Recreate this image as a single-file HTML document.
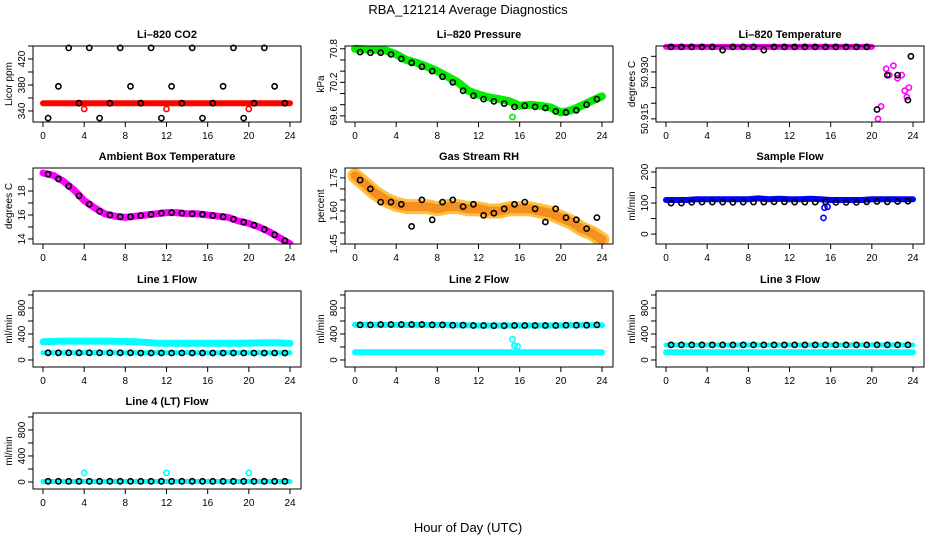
<!DOCTYPE html>
<html><head><meta charset="utf-8"><style>
body{margin:0;background:#fff;width:936px;height:540px;overflow:hidden}
svg{font-family:"Liberation Sans",sans-serif}
</style></head><body>
<svg id="chart" width="936" height="540" viewBox="0 0 936 540" xmlns="http://www.w3.org/2000/svg">
<rect x="0" y="0" width="936" height="540" fill="#fff"/>
<text x="468" y="14" text-anchor="middle" font-size="13">RBA_121214  Average Diagnostics</text>
<text x="468" y="532" text-anchor="middle" font-size="13">Hour of Day (UTC)</text>
</svg>
<script>
// shared x values
const hours = [0,1,2,3,4,5,6,7,8,9,10,11,12,13,14,15,16,17,18,19,20,21,22,23,24];
const bhours = [0.5,1.5,2.5,3.5,4.5,5.5,6.5,7.5,8.5,9.5,10.5,11.5,12.5,13.5,14.5,15.5,16.5,17.5,18.5,19.5,20.5,21.5,22.5,23.5];
const xTicks = [0,4,8,12,16,20,24];

// Li-820 CO2
const co2Red = [352,352,352,352,352,352,352,352,352,352,352,352,352,352,352,352,352,352,352,352,352,352,352,352,352];
const co2Black = [329,378,437,352,437,329,352,437,378,352,437,329,378,352,437,329,352,378,437,329,352,437,378,352];
const co2RedOut = [[4,343],[12,343],[20,343]];
// Li-820 Pressure
const presGreen = [70.8,70.79,70.78,70.77,70.7,70.6,70.55,70.48,70.4,70.3,70.2,70.05,69.98,69.93,69.9,69.86,69.78,69.8,69.78,69.75,69.66,69.7,69.78,69.87,69.95];
const presBlack = [70.74,70.73,70.73,70.7,70.62,70.55,70.48,70.4,70.3,70.2,70.05,69.96,69.9,69.86,69.82,69.76,69.78,69.76,69.74,69.68,69.66,69.7,69.8,69.9];
// Li-820 Temperature
const ltMag = [50.938,50.938,50.938,50.938,50.938,50.938,50.938,50.938,50.938,50.938,50.938,50.938,50.938,50.938,50.938,50.938,50.938,50.938,50.938,50.938,50.938,50.916,50.930,50.929,50.921];
const ltBlack = [50.938,50.938,50.938,50.938,50.938,50.937,50.938,50.938,50.938,50.937,50.938,50.938,50.938,50.938,50.938,50.938,50.938,50.938,50.938,50.938,50.918,50.929,50.929,50.921];
const ltBlackLast = [[23.8,50.935]];
// Ambient Box Temperature
const ambMag = [19.5,19.3,18.8,18.1,17.2,16.6,16.1,15.9,15.8,15.9,16.0,16.1,16.2,16.2,16.1,16.1,16.0,15.9,15.8,15.5,15.3,15.0,14.6,14.1,13.6];
const ambBlack = [19.4,19.0,18.4,17.6,16.9,16.3,16.0,15.85,15.85,15.95,16.05,16.15,16.2,16.15,16.1,16.05,15.95,15.85,15.65,15.4,15.15,14.8,14.35,13.85];
// Gas Stream RH
const rhBand = [1.76,1.72,1.68,1.65,1.63,1.62,1.62,1.62,1.61,1.62,1.62,1.61,1.61,1.60,1.60,1.61,1.61,1.61,1.60,1.59,1.57,1.55,1.52,1.50,1.47];
const rhBlack = [1.74,1.70,1.64,1.64,1.63,1.53,1.65,1.56,1.64,1.65,1.62,1.63,1.58,1.59,1.61,1.63,1.64,1.61,1.55,1.61,1.57,1.56,1.52,1.57];
// Sample Flow
const sfBlue = [110,110,110,112,112,112,112,112,112,115,112,114,112,112,114,112,110,110,110,110,112,112,112,112,112];
const sfBlack = [100,100,102,103,103,103,102,103,103,103,104,104,103,103,103,104,102,102,102,104,105,104,105,106];
const sfBlueOut = [[15.3,52],[15.4,85],[15.7,88]];
// Line 1 Flow
const l1CyanHi = [280,285,290,290,290,290,290,288,285,280,270,260,258,256,256,256,256,258,258,258,260,262,262,262,255];
const l1CyanLo = [112,112,112,112,112,112,112,112,112,112,112,112,112,112,112,112,112,112,112,112,112,112,112,112,112];
const l1Black = [110,110,110,110,110,110,110,110,110,108,108,108,108,108,108,108,108,108,108,108,108,108,108,108];
// Line 2 Flow
const l2CyanHi = [540,540,540,540,540,540,540,540,540,540,535,535,530,530,530,530,530,530,530,530,530,535,535,535,535];
const l2CyanLo = [118,118,118,118,118,118,118,118,118,118,118,118,118,118,118,118,118,118,118,118,118,118,118,118,118];
const l2Black = [540,540,545,545,545,545,545,540,540,535,535,530,530,528,528,530,530,530,530,530,535,535,535,540];
const l2CyanOut = [[15.3,320],[15.5,220],[15.8,210]];
// Line 3 Flow
const l3CyanHi = [230,230,230,230,230,230,230,230,230,230,230,230,230,230,230,230,230,230,230,230,230,230,230,230,230];
const l3CyanLo = [118,118,118,118,118,118,118,118,118,118,118,118,118,118,118,118,118,118,118,118,118,118,118,118,118];
const l3Black = [232,232,232,232,232,232,232,232,232,232,232,232,232,232,232,232,232,232,232,232,232,232,232,232];
// Line 4 Flow
const l4Cyan = [8,8,8,8,8,8,8,8,8,8,8,8,8,8,8,8,8,8,8,8,8,8,8,8,8];
const l4Black = [10,10,10,10,10,10,10,10,10,10,10,10,10,10,10,10,10,10,10,10,10,10,10,10];
const l4CyanOut = [[4,140],[12,140],[20,140]];

const svg = document.getElementById('chart');
const NS = 'http://www.w3.org/2000/svg';
const colL = [33, 345, 656];
const rowT = [46, 168, 291, 413];
const BW = 268, BH = 76;

function mk(tag, attrs, parent){
  const e = document.createElementNS(NS, tag);
  for (const k in attrs) e.setAttribute(k, attrs[k]);
  (parent || svg).appendChild(e);
  return e;
}

function panel(p){
  const L = colL[p.col], T = rowT[p.row];
  const g = mk('g', {});
  
  
  const xs = h => L + 10 + h * (247 / 24);
  const ys = v => T + BH - (v - p.ymin) / (p.ymax - p.ymin) * BH;
  const cid = 'clip-' + p.name;
  const cp = mk('clipPath', {id: cid}, g);
  mk('rect', {x: L, y: T - 3, width: BW, height: BH + 3}, cp);
  const plot = mk('g', {'clip-path': 'url(#' + cid + ')'}, g);
  
  
  p.series.forEach(s => {
    if (s.type === 'band') {
      let d = '';
      s.ys.forEach((v, i) => { d += (i ? 'L' : 'M') + xs(s.xs[i]).toFixed(1) + ' ' + ys(v).toFixed(1); });
      const pl = mk('path', {d: d, fill: 'none', stroke: s.color, 'stroke-width': s.w, 'stroke-linejoin': 'round', 'stroke-linecap': 'round'}, plot);
      
      
    } else {
      const sg = mk('g', {}, plot);
      
      
      const pts = s.pairs ? s.pairs : s.ys.map((v, i) => [s.xs[i], v]);
      pts.forEach(pt => {
        const c = mk('circle', {cx: xs(pt[0]).toFixed(1), cy: ys(pt[1]).toFixed(1), r: 2.6, fill: 'none', stroke: s.color, 'stroke-width': 1.6}, sg);
        
        
      });
    }
  });
  const box = mk('rect', {x: L, y: T, width: BW, height: BH, fill: 'none', stroke: '#000', 'stroke-width': 1}, g);
  
  
  const t = mk('text', {x: L + BW / 2, y: T - 8, 'text-anchor': 'middle', 'font-size': 11, 'font-weight': 'bold'}, g);
  t.textContent = p.title;
  
  
  const xa = mk('g', {}, g);
  
  
  xTicks.forEach(h => {
    mk('line', {x1: xs(h), x2: xs(h), y1: T + BH, y2: T + BH + 5, stroke: '#000'}, xa);
    const lt = mk('text', {x: xs(h), y: T + BH + 17, 'text-anchor': 'middle', 'font-size': 10}, xa);
    lt.textContent = h;
    
    
  });
  const ya = mk('g', {}, g);
  
  
  p.ticks.forEach(v => {
    const y = ys(v);
    if (y < T - 2 || y > T + BH + 2) return;
    mk('line', {x1: L - 5, x2: L, y1: y, y2: y, stroke: '#000'}, ya);
  });
  p.labels.forEach(v => {
    const y = ys(v);
    const lt = mk('text', {x: 0, y: 0, 'text-anchor': 'middle', 'font-size': 10, transform: 'translate(' + (L - 8) + ',' + y + ') rotate(-90)'}, ya);
    lt.textContent = p.fmt ? p.fmt(v) : v;
    
    
  });
  const yl = mk('text', {x: 0, y: 0, 'text-anchor': 'middle', 'font-size': 10, transform: 'translate(' + (L - 21) + ',' + (T + BH / 2) + ') rotate(-90)'}, ya);
  yl.textContent = p.ylab;
  
  
}

const flowTicks = [0,200,400,600,800,1000];
const flowLabels = [0,400,800];

panel({name:'co2', title:'Li\u2013820 CO2', col:0, row:0, ymin:323, ymax:440, ticks:[340,360,380,400,420,440], labels:[340,380,420], ylab:'Licor ppm',
  series:[{type:'band', name:'co2-red-band', xs:hours, ys:co2Red, color:'#ff0000', w:6},
          {name:'co2-red-outliers', pairs:co2RedOut, color:'#ff0000'},
          {name:'co2-black-points', xs:bhours, ys:co2Black, color:'#000'}]});
panel({name:'pressure', title:'Li\u2013820 Pressure', col:1, row:0, ymin:69.49, ymax:70.85, ticks:[69.6,69.8,70.0,70.2,70.4,70.6,70.8], labels:[69.6,70.2,70.8], ylab:'kPa', fmt:v=>v.toFixed(1),
  series:[{type:'band', name:'pressure-green-band', xs:hours, ys:presGreen, color:'#00ee00', w:8},
          {name:'pressure-green-outlier', pairs:[[15.3,69.58]], color:'#00ee00'},
          {name:'pressure-black-points', xs:bhours, ys:presBlack, color:'#000'}]});
panel({name:'li-temp', title:'Li\u2013820 Temperature', col:2, row:0, ymin:50.914, ymax:50.9383, ticks:[50.915,50.92,50.925,50.93,50.935], labels:[50.915,50.93], ylab:'degrees C', fmt:v=>v.toFixed(3),
  series:[{type:'band', name:'li-temp-magenta-band', xs:hours.slice(0,21), ys:ltMag.slice(0,21), color:'#ff00ff', w:6},
          {name:'li-temp-magenta-points', xs:[20.6,20.9,21.4,21.7,22.1,22.5,22.9,23.2,23.4,23.6], ys:[50.915,50.919,50.931,50.929,50.932,50.928,50.929,50.924,50.922,50.925], color:'#ff00ff'},
          {name:'li-temp-black-points', xs:bhours, ys:ltBlack, color:'#000'},
          {name:'li-temp-black-last', pairs:ltBlackLast, color:'#000'}]});
panel({name:'ambient-temp', title:'Ambient Box Temperature', col:0, row:1, ymin:13.58, ymax:19.92, ticks:[14,15,16,17,18,19], labels:[14,16,18], ylab:'degrees C',
  series:[{type:'band', name:'ambient-magenta-band', xs:hours, ys:ambMag, color:'#ff00ff', w:7},
          {name:'ambient-black-points', xs:bhours, ys:ambBlack, color:'#000'}]});
panel({name:'rh', title:'Gas Stream RH', col:1, row:1, ymin:1.45, ymax:1.795, ticks:[1.45,1.5,1.55,1.6,1.65,1.7,1.75], labels:[1.45,1.60,1.75], ylab:'percent', fmt:v=>v.toFixed(2),
  series:[{type:'band', name:'rh-orange-band', xs:hours, ys:rhBand, color:'#ffc040', w:15},
          {type:'band', name:'rh-red-band', xs:hours, ys:rhBand, color:'#f49020', w:9},
          {name:'rh-black-points', xs:bhours, ys:rhBlack, color:'#000'}]});
panel({name:'sample-flow', title:'Sample Flow', col:2, row:1, ymin:-32, ymax:213, ticks:[0,50,100,150,200], labels:[0,100,200], ylab:'ml/min',
  series:[{type:'band', name:'sample-blue-band', xs:hours, ys:sfBlue, color:'#0000ff', w:6},
          {name:'sample-blue-outliers', pairs:sfBlueOut, color:'#0000ff'},
          {name:'sample-black-points', xs:bhours, ys:sfBlack, color:'#000'}]});
panel({name:'line1-flow', title:'Line 1 Flow', col:0, row:2, ymin:-108, ymax:1061, ticks:flowTicks, labels:flowLabels, ylab:'ml/min',
  series:[{type:'band', name:'line1-cyan-high', xs:hours, ys:l1CyanHi, color:'#00ffff', w:7},
          {type:'band', name:'line1-cyan-low', xs:hours, ys:l1CyanLo, color:'#00ffff', w:5},
          {name:'line1-black-points', xs:bhours, ys:l1Black, color:'#000'}]});
panel({name:'line2-flow', title:'Line 2 Flow', col:1, row:2, ymin:-108, ymax:1061, ticks:flowTicks, labels:flowLabels, ylab:'ml/min',
  series:[{type:'band', name:'line2-cyan-high', xs:hours, ys:l2CyanHi, color:'#00ffff', w:6},
          {type:'band', name:'line2-cyan-low', xs:hours, ys:l2CyanLo, color:'#00ffff', w:6},
          {name:'line2-cyan-outliers', pairs:l2CyanOut, color:'#00ffff'},
          {name:'line2-black-points', xs:bhours, ys:l2Black, color:'#000'}]});
panel({name:'line3-flow', title:'Line 3 Flow', col:2, row:2, ymin:-108, ymax:1061, ticks:flowTicks, labels:flowLabels, ylab:'ml/min',
  series:[{type:'band', name:'line3-cyan-high', xs:hours, ys:l3CyanHi, color:'#00ffff', w:5},
          {type:'band', name:'line3-cyan-low', xs:hours, ys:l3CyanLo, color:'#00ffff', w:6},
          {name:'line3-black-points', xs:bhours, ys:l3Black, color:'#000'}]});
panel({name:'line4-flow', title:'Line 4 (LT) Flow', col:0, row:3, ymin:-108, ymax:1061, ticks:flowTicks, labels:flowLabels, ylab:'ml/min',
  series:[{type:'band', name:'line4-cyan-band', xs:hours, ys:l4Cyan, color:'#00ffff', w:5},
          {name:'line4-cyan-outliers', pairs:l4CyanOut, color:'#00ffff'},
          {name:'line4-black-points', xs:bhours, ys:l4Black, color:'#000'}]});
</script>
</body></html>
